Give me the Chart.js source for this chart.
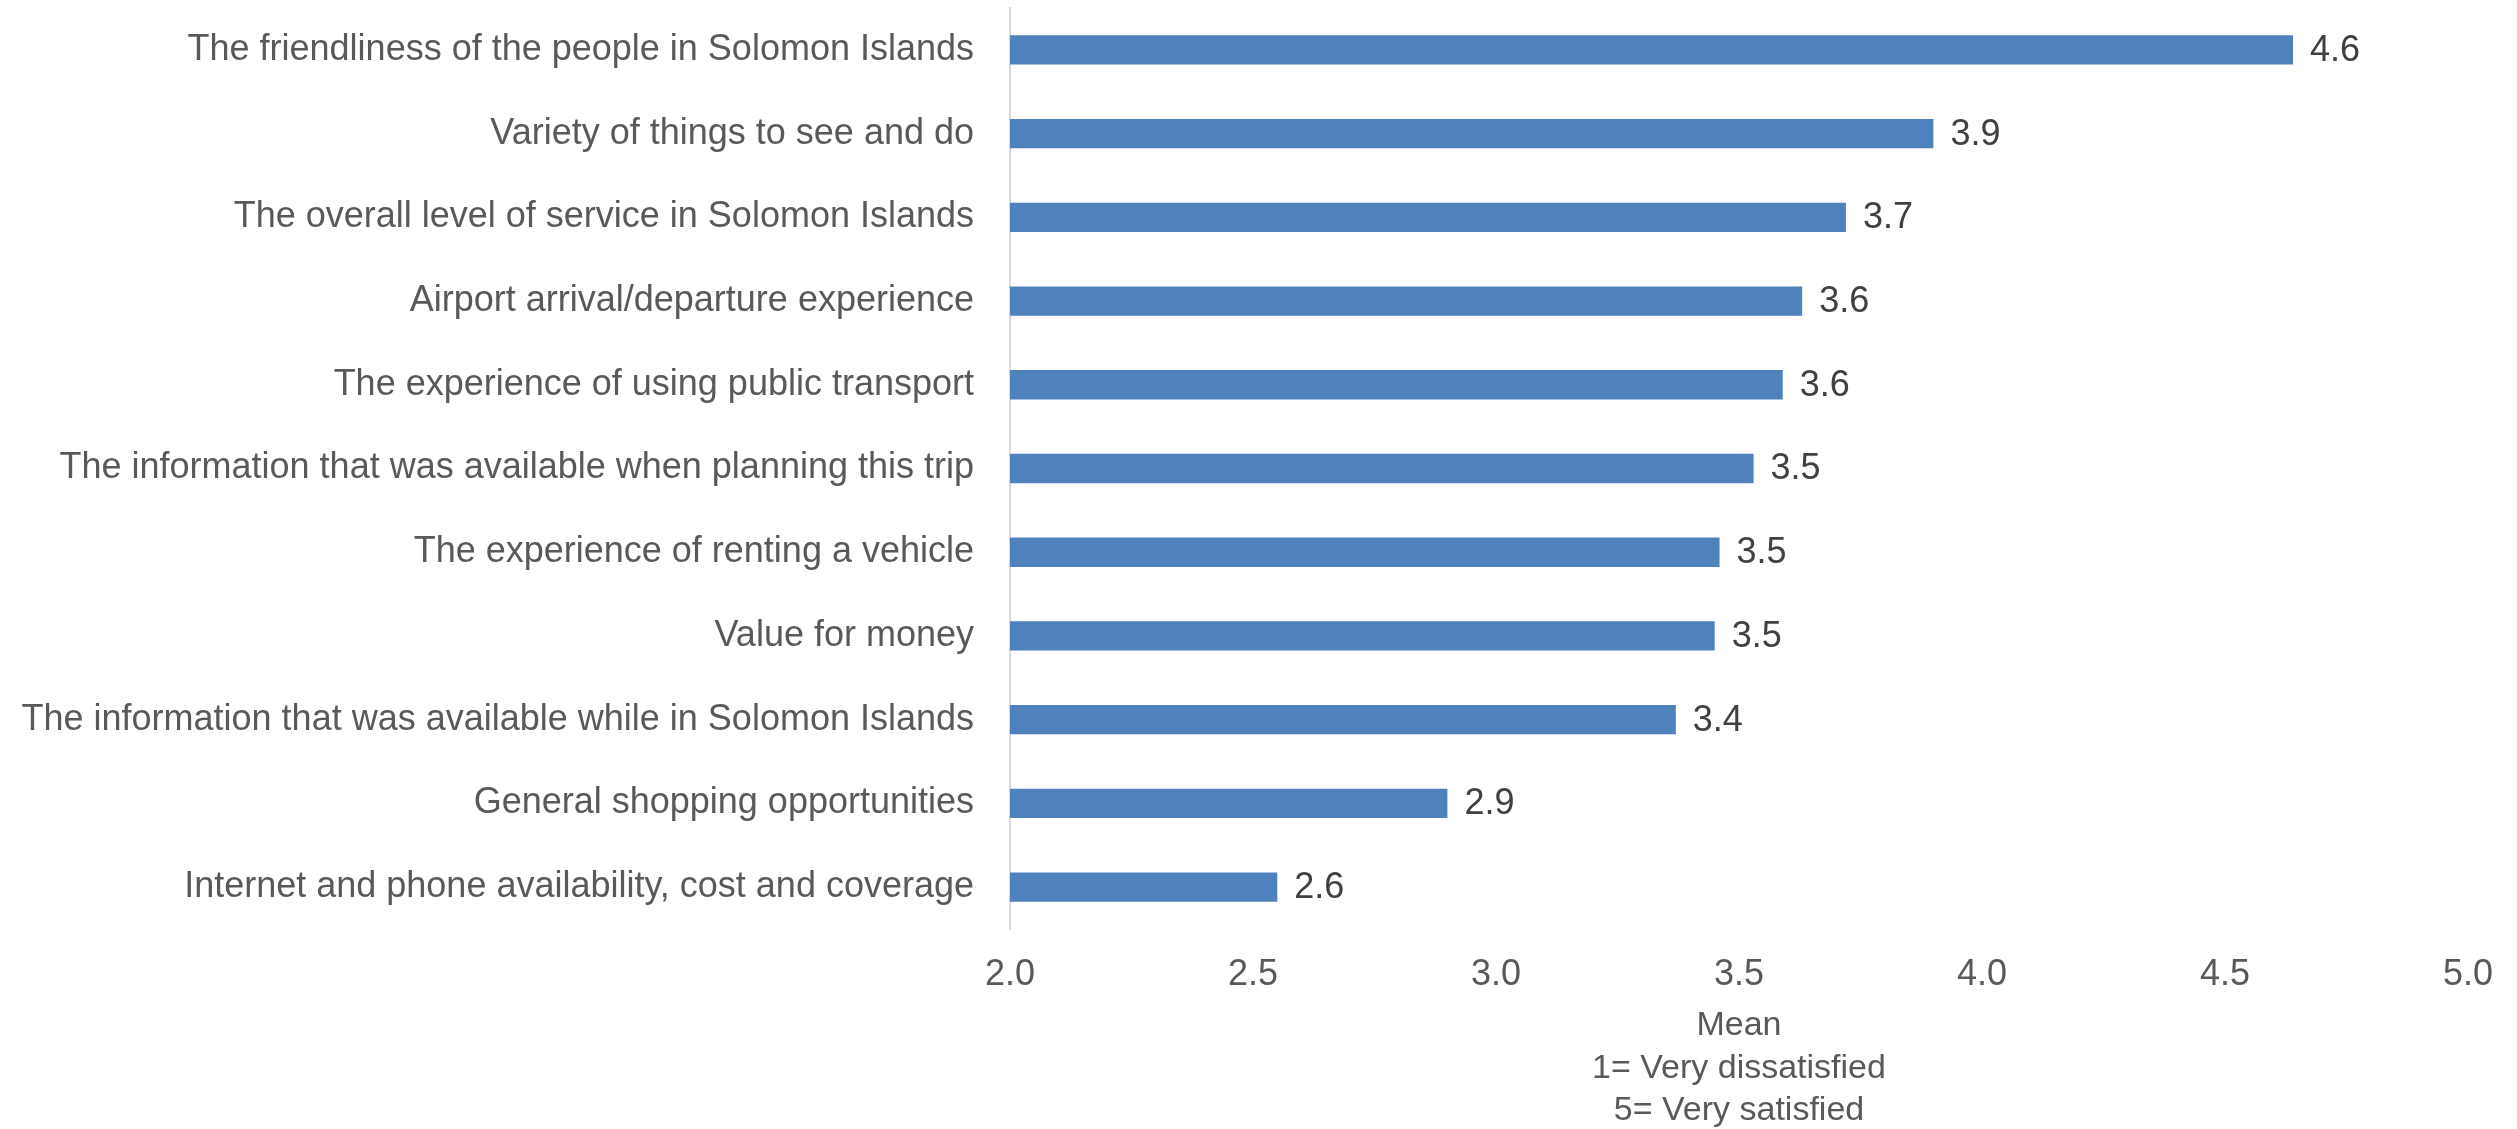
<!DOCTYPE html>
<html>
<head>
<meta charset="utf-8">
<script src="https://cdn.jsdelivr.net/npm/chart.js@4"></script>
<style>
  html, body { margin: 0; padding: 0; background: #ffffff; }
  #wrap { width: 2517px; height: 1129px; }
</style>
</head>
<body>
<div id="wrap"><canvas id="c" width="2517" height="1129"></canvas></div>
<script>
const categories = [
  "The friendliness of the people in Solomon Islands",
  "Variety of things to see and do",
  "The overall level of service in Solomon Islands",
  "Airport arrival/departure experience",
  "The experience of using public transport",
  "The information that was available when planning this trip",
  "The experience of renting a vehicle",
  "Value for money",
  "The information that was available while in Solomon Islands",
  "General shopping opportunities",
  "Internet and phone availability, cost and coverage"
];
const meanValues = [4.64, 3.90, 3.72, 3.63, 3.59, 3.53, 3.46, 3.45, 3.37, 2.90, 2.55];
const axisTitleLines = ["Mean", "1= Very dissatisfied", "5= Very satisfied"];
const xMin = 2.0, xMax = 5.0, xStep = 0.5;

const FONT = "'Liberation Sans', Arial, sans-serif";
const fmt1 = (v) => (Math.round(v * 10 + 1e-9) / 10).toFixed(1);

const valueLabels = {
  id: 'valueLabels',
  afterDatasetsDraw(chart) {
    const ctx = chart.ctx;
    const meta = chart.getDatasetMeta(0);
    ctx.save();
    ctx.font = "36px " + FONT;
    ctx.fillStyle = "#404040";
    ctx.textAlign = "left";
    ctx.textBaseline = "middle";
    meta.data.forEach((el, i) => {
      const v = chart.data.datasets[0].data[i];
      ctx.fillText(fmt1(v), el.x + 17, el.y + 1);
    });
    ctx.restore();
  }
};

new Chart(document.getElementById('c'), {
  type: 'bar',
  data: {
    labels: categories,
    datasets: [{
      data: meanValues,
      backgroundColor: '#4F81BD',
      borderWidth: 0,
      barPercentage: 0.35,
      categoryPercentage: 1.0
    }]
  },
  plugins: [valueLabels],
  options: {
    indexAxis: 'y',
    responsive: false,
    animation: false,
    devicePixelRatio: 1,
    layout: { padding: { top: 8, right: 45, bottom: 0, left: 0 } },
    plugins: {
      legend: { display: false },
      tooltip: { enabled: false }
    },
    scales: {
      x: {
        min: xMin,
        max: xMax,
        grid: { display: false, drawTicks: false },
        border: { display: false },
        ticks: {
          stepSize: xStep,
          padding: 24,
          color: '#595959',
          font: { family: FONT, size: 36 },
          callback: (v) => Number(v).toFixed(1)
        },
        title: {
          display: true,
          text: axisTitleLines,
          color: '#595959',
          font: { family: FONT, size: 34, lineHeight: 1.25 },
          padding: { top: 0, bottom: -3 }
        },
        afterFit: (s) => { s.height = 200; s.paddingTop = 0; s.paddingBottom = 0; }
      },
      y: {
        grid: { display: false, drawTicks: false },
        border: { display: true, color: '#d9d9d9', width: 2 },
        ticks: {
          padding: 36,
          color: '#595959',
          font: { family: FONT, size: 36 }
        },
        afterFit: (s) => { s.width = 1010; s.paddingTop = 0; s.paddingBottom = 0; }
      }
    }
  }
});
</script>
</body>
</html>
